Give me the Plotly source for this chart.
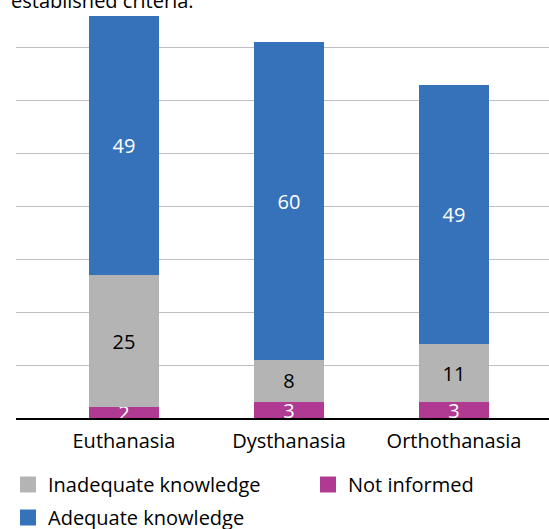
import plotly.graph_objects as go

categories = ["Euthanasia", "Dysthanasia", "Orthothanasia"]
not_informed = [2, 3, 3]
inadequate = [25, 8, 11]
adequate = [49, 60, 49]

C_NOT = "#B03A91"
C_INAD = "#B4B4B4"
C_ADEQ = "#3672BA"
FONT = "Open Sans"
FS = 20
BAR_W = 0.424

fig = go.Figure()

def add_bar(vals, color, txtcolor, name):
    fig.add_trace(go.Bar(
        x=categories, y=vals, name=name, marker=dict(color=color, line=dict(width=0)),
        width=BAR_W, text=[str(v) for v in vals], textposition="inside",
        insidetextanchor="middle", textangle=0, constraintext="none",
        textfont=dict(color=txtcolor, size=FS, family=FONT), showlegend=False,
        hoverinfo="skip"))

add_bar(not_informed, C_NOT, "white", "Not informed")
add_bar(inadequate, C_INAD, "black", "Inadequate knowledge")
add_bar(adequate, C_ADEQ, "white", "Adequate knowledge")

# legend-only entries
for name, color, leg in [("Inadequate knowledge", C_INAD, "legend"),
                         ("Not informed", C_NOT, "legend2"),
                         ("Adequate knowledge", C_ADEQ, "legend3")]:
    fig.add_trace(go.Scatter(x=[None], y=[None], mode="markers", name=name,
                             legend=leg, legendgroup=name,
                             marker=dict(symbol="square", size=16, color=color)))

leg_common = dict(orientation="v", xref="container", yref="container",
                  xanchor="left", yanchor="top", traceorder="normal",
                  font=dict(size=FS, family=FONT), itemsizing="trace",
                  bgcolor="rgba(0,0,0,0)")

fig.update_layout(
    width=549, height=529,
    margin=dict(l=16, r=0, t=0, b=111, autoexpand=False),
    barmode="stack",
    plot_bgcolor="white", paper_bgcolor="white",
    font=dict(family=FONT, size=FS, color="black"),
    xaxis=dict(range=[-0.6545, 2.5758], showgrid=False, showline=True,
               linecolor="black", linewidth=2, ticks="", tickfont=dict(size=FS),
               ticklabelstandoff=4, fixedrange=True),
    yaxis=dict(range=[0, 79.0], dtick=10, showgrid=True, gridcolor="#BFBFBF",
               gridwidth=1, showticklabels=False, zeroline=False, showline=False,
               fixedrange=True),
    legend=dict(x=8 / 549, y=1 - 465 / 529, **leg_common),
    legend2=dict(x=308 / 549, y=1 - 465 / 529, **leg_common),
    legend3=dict(x=8 / 549, y=1 - 498 / 529, **leg_common),
    showlegend=True,
    annotations=[dict(text="established criteria.", xref="paper", yref="paper",
                      x=-0.013, y=1 - 16 / 418, xanchor="left", yanchor="bottom",
                      showarrow=False, font=dict(size=20, family=FONT, color="black"))],
)

fig.write_html("out.html", config={"displayModeBar": False},
               post_script="document.body.style.margin='0px';document.body.style.overflow='hidden';")
